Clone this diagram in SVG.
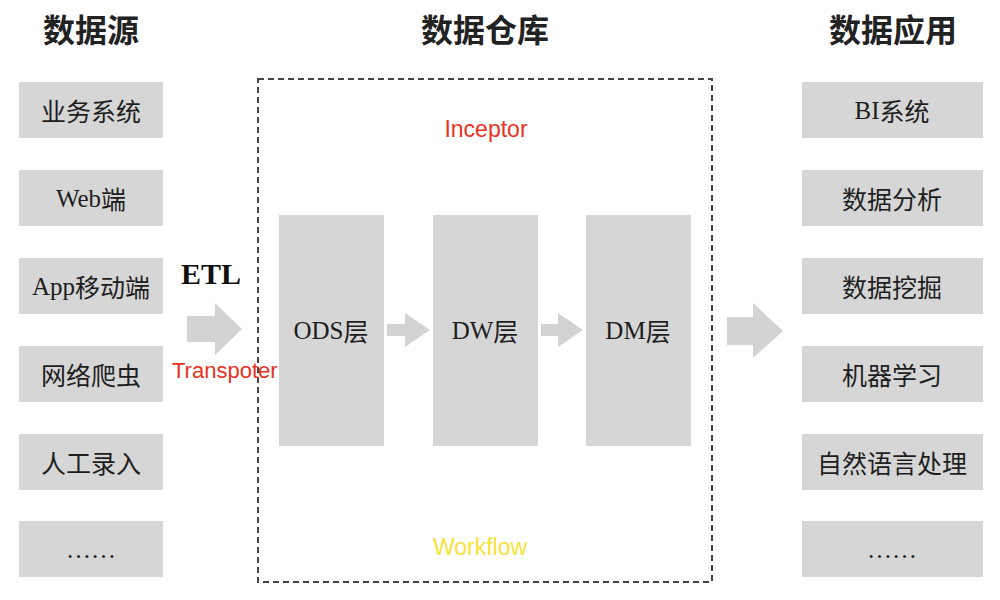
<svg xmlns="http://www.w3.org/2000/svg" width="1000" height="600" viewBox="0 0 1000 600">
<style>
.bg{fill:#ffffff}
.box{fill:#d6d6d6}
.arrow{fill:#d3d3d3}
.title{font-family:"Noto Sans CJK SC","Noto Sans",sans-serif;font-size:32px;font-weight:bold;fill:#222;text-anchor:middle}
.lbl{font-family:"Liberation Serif","Noto Sans CJK SC",serif;font-size:25px;fill:#1e1e1e;text-anchor:middle;dominant-baseline:central}
.cjk{font-family:"Noto Sans CJK SC",sans-serif}
.etl{font-family:"Liberation Serif",serif;font-size:30px;font-weight:bold;fill:#111}
.red{font-family:"Liberation Sans","Noto Sans",sans-serif;font-size:22px;fill:#e8321e}
.yellow{font-family:"Liberation Sans","Noto Sans",sans-serif;font-size:23px;fill:#f6e23c}
.dash{fill:none;stroke:#444;stroke-width:2;stroke-dasharray:6 4}
</style>
<rect class="bg" x="0" y="0" width="1000" height="600"/>

<g id="titles">
<text class="title" x="91" y="42">数据源</text>
<text class="title" x="485" y="42">数据仓库</text>
<text class="title" x="893" y="42">数据应用</text>
</g>

<g id="warehouse">
<rect class="dash" x="258" y="79" width="454" height="503"/>
<text class="red" x="486" y="137" text-anchor="middle" style="font-size:23px">Inceptor</text>
<text class="yellow" x="480" y="555" text-anchor="middle">Workflow</text>
</g>

<g id="src-1"><rect class="box" x="19" y="82" width="144" height="56"/><text class="lbl cjk" x="91" y="110">业务系统</text></g>
<g id="src-2"><rect class="box" x="19" y="170" width="144" height="56"/><text class="lbl" x="91" y="198">Web<tspan class="cjk">端</tspan></text></g>
<g id="src-3"><rect class="box" x="19" y="258" width="144" height="56"/><text class="lbl" x="91" y="286">App<tspan class="cjk">移动端</tspan></text></g>
<g id="src-4"><rect class="box" x="19" y="346" width="144" height="56"/><text class="lbl cjk" x="91" y="374">网络爬虫</text></g>
<g id="src-5"><rect class="box" x="19" y="434" width="144" height="56"/><text class="lbl cjk" x="91" y="462">人工录入</text></g>
<g id="src-6"><rect class="box" x="19" y="521" width="144" height="56"/><text class="lbl" x="91" y="549">……</text></g>

<g id="ods"><rect class="box" x="279" y="215" width="105" height="231"/><text class="lbl" x="331" y="330">ODS<tspan class="cjk">层</tspan></text></g>
<g id="dw"><rect class="box" x="433" y="215" width="105" height="231"/><text class="lbl" x="485" y="330">DW<tspan class="cjk">层</tspan></text></g>
<g id="dm"><rect class="box" x="586" y="215" width="105" height="231"/><text class="lbl" x="638" y="330">DM<tspan class="cjk">层</tspan></text></g>

<g id="app-1"><rect class="box" x="802" y="82" width="181" height="56"/><text class="lbl" x="892" y="110">BI<tspan class="cjk">系统</tspan></text></g>
<g id="app-2"><rect class="box" x="802" y="170" width="181" height="56"/><text class="lbl cjk" x="892" y="198">数据分析</text></g>
<g id="app-3"><rect class="box" x="802" y="258" width="181" height="56"/><text class="lbl cjk" x="892" y="286">数据挖掘</text></g>
<g id="app-4"><rect class="box" x="802" y="346" width="181" height="56"/><text class="lbl cjk" x="892" y="374">机器学习</text></g>
<g id="app-5"><rect class="box" x="802" y="434" width="181" height="56"/><text class="lbl cjk" x="892" y="462">自然语言处理</text></g>
<g id="app-6"><rect class="box" x="802" y="521" width="181" height="56"/><text class="lbl" x="892" y="549">……</text></g>

<g id="connectors">
<polygon class="arrow" points="187,316 215,316 215,303 242,329 215,355 215,342 187,342"/>
<polygon class="arrow" points="387,324 405,324 405,313 430,330 405,347 405,336 387,336"/>
<polygon class="arrow" points="541,324 558,324 558,313 583,330 558,347 558,336 541,336"/>
<polygon class="arrow" points="727,317 753,317 753,303 783,331 753,358 753,345 727,345"/>
<text class="etl" x="181" y="284">ETL</text>
<text class="red" x="172" y="378">Transpoter</text>
</g>
</svg>
